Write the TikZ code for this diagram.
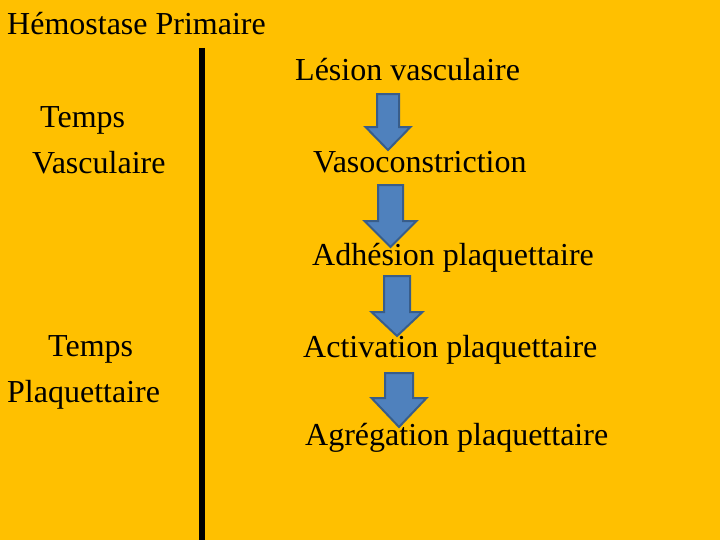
\documentclass[tikz,border=0pt]{standalone}
\usepackage{fontspec}
\setmainfont{Liberation Serif}
\definecolor{fond}{HTML}{FFC000}
\definecolor{bleu}{HTML}{4F81BD}
\definecolor{bleuBord}{HTML}{385D8A}
\tikzset{
	texte/.style={anchor=base west,inner sep=0pt,font=\fontsize{32}{38}\selectfont},
	fleche/.style={fill=bleu,draw=bleuBord,line width=2pt,line join=miter}
}
\begin{document}
\begin{tikzpicture}[x=1pt,y=-1pt,line join=round,line cap=round]
		\fill[fond] (0,0) rectangle (720,540);
		\draw[line width=6pt,line cap=butt] (202,48) -- (202,540);
		\node[texte] (titre) at (7,35) {Hémostase Primaire};
		\node[texte] (tv1) at (40,127) {Temps};
		\node[texte] (tv2) at (32,173) {Vasculaire};
		\node[texte] (tp1) at (48,356) {Temps};
		\node[texte] (tp2) at (7,402) {Plaquettaire};
		\node[texte] (lesion) at (295,81) {Lésion vasculaire};
		\node[texte] (vaso) at (313,172) {Vasoconstriction};
		\node[texte] (adh) at (312,265) {Adhésion plaquettaire};
		\node[texte] (activ) at (303,357) {Activation plaquettaire};
		\node[texte] (agreg) at (305,445) {Agrégation plaquettaire};
		% fleches bleues
		\foreach \cx/\sw/\hw/\ht/\hy/\tp in {388/11/22.5/94/127/150,390.5/12.5/26/185/221/247,397/13/25.5/276/312/336,399/14/27.5/373/398/427}
			\draw[fleche] (\cx-\sw,\ht) -- (\cx+\sw,\ht) -- (\cx+\sw,\hy) -- (\cx+\hw,\hy) -- (\cx,\tp) -- (\cx-\hw,\hy) -- (\cx-\sw,\hy) -- cycle;
\end{tikzpicture}
\end{document}
